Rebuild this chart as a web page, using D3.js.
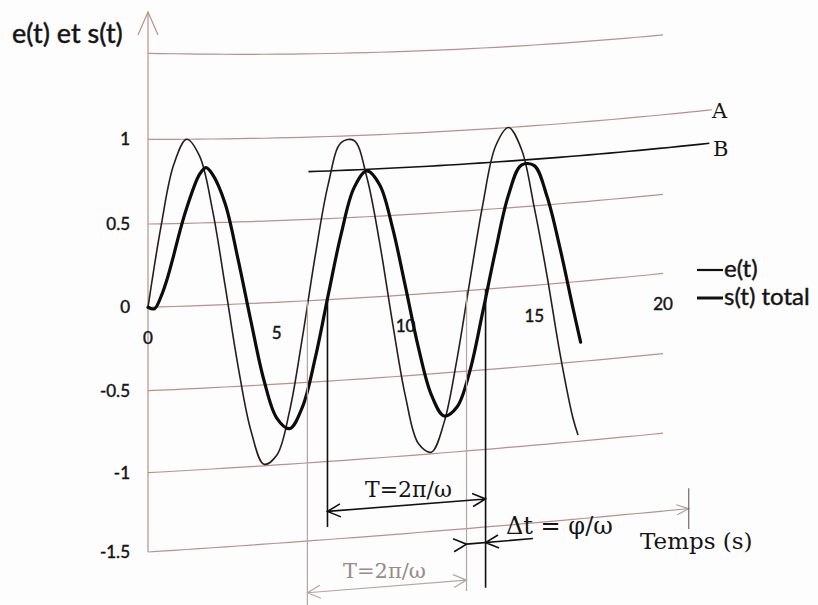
<!DOCTYPE html>
<html><head><meta charset="utf-8">
<script src="https://cdn.jsdelivr.net/npm/d3@7"></script>
<style>
  body { margin: 0; background: #fdfdfd; }
  svg { display: block; }
  .sans { font-family: Lato, "Open Sans", sans-serif; fill: #141414; stroke: #141414; stroke-width: 0.45; }
  .serif { font-family: "DejaVu Serif", "Liberation Serif", serif; fill: #141414; }
</style>
</head><body>
<svg id="chart" width="818" height="605"></svg>
<script>
// Input signal e(t) sampled every 0.5 s
const eTimes = [0,0.5,1,1.5,2,2.5,3,3.5,4,4.5,5,5.5,6,6.5,7,7.5,8,8.5,9,9.5,10,10.5,11,11.5,12,12.5,13,13.5,14,14.5,15,15.5,16,16.5,16.7];
const eValues = [0,0.48,0.85,1.00,0.90,0.58,0.11,-0.38,-0.78,-0.99,-0.94,-0.67,-0.22,0.28,0.71,0.96,0.97,0.74,0.33,-0.17,-0.63,-0.93,-0.99,-0.81,-0.42,0.06,0.53,0.89,1.00,0.86,0.49,0.05,-0.44,-0.85,-0.96];

// Total response s(t): transient at start, then steady oscillation
const sTimes = [0,0.25,0.5,0.75,1,1.25,1.5,2,2.25,2.5,3,3.5,4,4.5,5,5.5,6,6.5,7,7.5,8,8.5,9,9.5,10,10.5,11,11.5,12,12.5,13,13.5,14,14.5,15,15.5,16,16.5,16.8];
const sValues = [0,-0.01,0.06,0.17,0.31,0.46,0.59,0.79,0.83,0.79,0.61,0.27,-0.11,-0.47,-0.71,-0.78,-0.65,-0.35,0.03,0.40,0.68,0.78,0.69,0.42,0.05,-0.33,-0.63,-0.77,-0.72,-0.50,-0.14,0.24,0.58,0.76,0.75,0.55,0.22,-0.16,-0.38];

// Axes
const yTicks = [-1.5,-1,-0.5,0,0.5,1,1.5];
const yTickLabels = ["-1.5","-1","-0.5","0","0.5","1",""];
const xTicks = [0,5,10,15,20];
const xTickLabels = ["0","5","10","15","20"];

// Reference levels A (input amplitude) and B (output amplitude)
const levelA = 1;
const levelB = 0.79;

// Upward zero crossings used to measure the period and the lag
const eCrossings = [6.19, 12.37];
const sCrossings = [6.97, 13.11];

const svg = d3.select("#chart");

const x = d3.scaleLinear().domain([0, 20]).range([148, 663]);
const y = d3.scaleLinear().domain(yTicks).range([552, 472.7, 390.7, 307.3, 224, 139.3, 53.3]);

// The sheet is slightly tilted and bent: points further right rise,
// and more so towards the bottom of the plot.
const yTop = y(1.5), yBot = y(-1.5), x0 = x(0);
function warp(px, py) {
  const u = px - x0;
  const k = (py - yTop) / (yBot - yTop);
  const d = u * (0.021 - 0.085 * k) + u * u * (-1.1e-4 + 8e-5 * k) - 16 * (u / 512) * k * (1 - k);
  return [px, py + d];
}
const P = (t, v) => warp(x(t), y(v));
const sampled = (t0, t1, v) => d3.range(t0, t1 + 1e-9, (t1 - t0) / 40).map(t => P(t, v));

const straight = d3.line();
const smooth = d3.line().curve(d3.curveCatmullRom.alpha(0.5));

const gridColor = "#b9908b";

// Horizontal grid
svg.append("g").selectAll("path").data(yTicks).join("path")
  .attr("d", v => straight(sampled(0, 20, v)))
  .attr("fill", "none").attr("stroke", gridColor).attr("stroke-width", 1.2);

// Level A continues the grid line at 1
svg.append("path").attr("d", straight(sampled(20, 21.9, levelA)))
  .attr("fill", "none").attr("stroke", gridColor).attr("stroke-width", 1.2);

// Time axis extension with arrow and end tick
const tEnd = 21;
svg.append("path").attr("d", straight(sampled(20, tEnd, -1.5)))
  .attr("fill", "none").attr("stroke", "#a89a98").attr("stroke-width", 1.1);

function head(tip, from, len = 13, half = 6.5) {
  const dx = tip[0] - from[0], dy = tip[1] - from[1];
  const n = Math.hypot(dx, dy), ux = dx / n, uy = dy / n;
  const bx = tip[0] - ux * len, by = tip[1] - uy * len;
  return `M${bx - uy * half},${by + ux * half}L${tip[0]},${tip[1]}L${bx + uy * half},${by - ux * half}`;
}
svg.append("path").attr("d", head(P(tEnd, -1.5), P(tEnd - 1, -1.5), 12, 5))
  .attr("fill", "none").attr("stroke", "#a89a98").attr("stroke-width", 1.1);
svg.append("path").attr("d", straight([P(tEnd, -1.37), P(tEnd, -1.63)]))
  .attr("stroke", "#6a5a58").attr("stroke-width", 1.1);

// Vertical axis with open arrow
const axTop = [x0, 12];
svg.append("path").attr("d", straight([[x0, y(-1.5)], axTop]))
  .attr("stroke", gridColor).attr("stroke-width", 1.2);
svg.append("path").attr("d", head(axTop, [x0, 60], 23, 10))
  .attr("fill", "none").attr("stroke", gridColor).attr("stroke-width", 1.2);

// Y tick labels
const yAxis = svg.append("g").attr("transform", `translate(${x0},0)`)
  .call(d3.axisLeft(y).tickValues(yTicks).tickSize(0).tickPadding(18)
    .tickFormat((d, i) => yTickLabels[i]));
yAxis.select(".domain").remove();
yAxis.selectAll("text").attr("class", "sans").attr("font-size", 17).attr("fill", "#141414");

// X tick labels follow the tilted zero line
svg.append("g").selectAll("text").data(xTicks).join("text")
  .attr("class", "sans").attr("font-size", 17).attr("text-anchor", "middle")
  .attr("x", t => P(t, 0)[0]).attr("y", t => P(t, 0)[1] + 37)
  .text((t, i) => xTickLabels[i]);

// Level B through the output peaks
svg.append("path").attr("d", straight(sampled(6.23, 21.8, levelB)))
  .attr("fill", "none").attr("stroke", "#111").attr("stroke-width", 1.6);

// Signals
svg.append("path").attr("d", smooth(eTimes.map((t, i) => P(t, eValues[i]))))
  .attr("fill", "none").attr("stroke", "#2a1c1a").attr("stroke-width", 1.6);
svg.append("path").attr("d", smooth(sTimes.map((t, i) => P(t, sValues[i]))))
  .attr("fill", "none").attr("stroke", "#0c0c0c").attr("stroke-width", 3.2)
  .attr("stroke-linecap", "round");

// Period markers
const vline = (t, v0, v1, color, w) => svg.append("path")
  .attr("d", straight([P(t, v0), P(t, v1)])).attr("stroke", color).attr("stroke-width", w);
vline(eCrossings[0], 0, -2, "#b8a4a2", 1.2);
vline(eCrossings[1], 0, -1.9, "#b8a4a2", 1.2);
vline(sCrossings[0], 0, -1.42, "#111", 1.6);
vline(sCrossings[1], 0, -1.89, "#111", 1.6);

// Period of the output
const tl = P(sCrossings[0], -1.32), tr = P(sCrossings[1], -1.32);
svg.append("path").attr("d", straight([tl, tr]) + head(tl, tr) + head(tr, tl))
  .attr("fill", "none").attr("stroke", "#111").attr("stroke-width", 1.6);

// Period of the input (faint)
const gl = P(eCrossings[0], -1.83), gr = P(eCrossings[1], -1.83);
svg.append("path").attr("d", straight([gl, gr]) + head(gl, gr) + head(gr, gl))
  .attr("fill", "none").attr("stroke", "#b8a4a2").attr("stroke-width", 1.2);

// Lag between the two signals
const dl = P(eCrossings[1], -1.6), dr = P(sCrossings[1], -1.6), dEnd = P(14.95, -1.6);
svg.append("path")
  .attr("d", straight([dl, dEnd]) + head(dl, P(eCrossings[1] - 1, -1.6)) + head(dr, dEnd))
  .attr("fill", "none").attr("stroke", "#111").attr("stroke-width", 1.6);

// Texts
svg.append("text").attr("class", "sans").attr("x", 12).attr("y", 43)
  .attr("font-size", 27).text("e(t) et s(t)");
svg.append("text").attr("class", "serif").attr("x", 712).attr("y", 118)
  .attr("font-size", 21).text("A");
svg.append("text").attr("class", "serif").attr("x", 713).attr("y", 156)
  .attr("font-size", 21).text("B");
svg.append("text").attr("class", "serif").attr("x", 365).attr("y", 497)
  .attr("font-size", 22).text("T=2π/ω");
svg.append("text").attr("class", "serif").attr("x", 343).attr("y", 578)
  .attr("font-size", 21).style("fill", "#9a8a88").text("T=2π/ω");
const lag = svg.append("text").attr("class", "serif").attr("x", 506).attr("y", 534).attr("font-size", 24);
lag.append("tspan").text("Δt");
lag.append("tspan").text(" = φ/ω");
svg.append("text").attr("class", "serif").attr("x", 640).attr("y", 549)
  .attr("font-size", 23).text("Temps (s)");

// Legend
const legend = [{ label: "e(t)", w: 2.2, yy: 270 }, { label: "s(t) total", w: 3, yy: 298 }];
legend.forEach(l => {
  svg.append("line").attr("x1", 697).attr("x2", 723).attr("y1", l.yy).attr("y2", l.yy)
    .attr("stroke", "#111").attr("stroke-width", l.w);
  svg.append("text").attr("class", "sans").attr("x", 724).attr("y", l.yy + 7)
    .attr("font-size", 24).text(l.label);
});
</script>
</body></html>
